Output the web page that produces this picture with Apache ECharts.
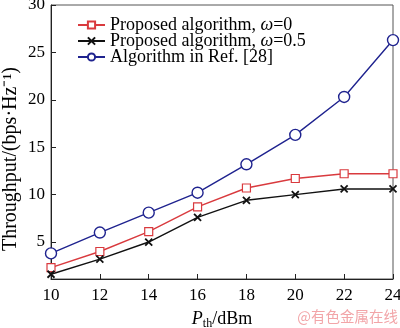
<!DOCTYPE html>
<html><head><meta charset="utf-8">
<script src="https://cdn.jsdelivr.net/npm/echarts@6/dist/echarts.min.js"></script>
<style>html,body{margin:0;padding:0;background:#fff}#c{width:400px;height:328px}</style>
</head><body><div id="c"></div>
<script>
var xValues = [10, 12, 14, 16, 18, 20, 22, 24];
var xTicks = [10, 12, 14, 16, 18, 20, 22, 24];
var yTicks = [5, 10, 15, 20, 25, 30];
var seriesNames = ['Proposed algorithm, ω=0', 'Proposed algorithm, ω=0.5', 'Algorithm in Ref. [28]'];
var proposedW0 = [2.3, 4.0, 6.1, 8.7, 10.7, 11.7, 12.2, 12.2];
var proposedW05 = [1.6, 3.2, 5.0, 7.6, 9.4, 10.0, 10.6, 10.6];
var refAlg = [3.8, 6.0, 8.1, 10.2, 13.2, 16.3, 20.3, 26.3];
var yTitle = 'Throughput/(bps·Hz⁻¹)';

function pairs(arr){ return arr.map(function(v,i){ return [xValues[i], v]; }); }
var FONT = 'Liberation Serif';
var LF = 18;
var chart = echarts.init(document.getElementById('c'), null, {renderer:'canvas'});
var legendRich = {
  n:{fontFamily:FONT,fontSize:LF,color:'#000'},
  i:{fontFamily:FONT,fontSize:LF,fontStyle:'italic',color:'#000'}
};
chart.setOption({
  animation:false,
  backgroundColor:'#fff',
  grid:{left:51,right:7,top:5,bottom:49,outerBoundsMode:'none',containLabel:false,
        show:true,borderColor:'#555',borderWidth:1,backgroundColor:'transparent'},
  legend:{
    orient:'vertical',left:77,top:16,itemWidth:27,itemHeight:9,itemGap:-2,
    padding:0,
    textStyle:{fontFamily:FONT,fontSize:LF,color:'#000',rich:legendRich},
    formatter:function(name){
      if(name===seriesNames[0]) return '{n|Proposed algorithm, }{i|ω}{n|=0}';
      if(name===seriesNames[1]) return '{n|Proposed algorithm, }{i|ω}{n|=0.5}';
      return '{n|'+name+'}';
    },
    data:seriesNames
  },
  xAxis:{
    type:'value',min:10,max:24,
    axisLine:{lineStyle:{color:'#222',width:1}},
    axisTick:{inside:true,length:5,lineStyle:{color:'#222'},customValues:xTicks},
    axisLabel:{fontFamily:FONT,fontSize:17,color:'#000',margin:8,customValues:xTicks},
    splitLine:{show:false},
    name:'{i|P}{s|th}{n|/dBm}',nameLocation:'middle',nameGap:30,
    nameTextStyle:{rich:{
      i:{fontFamily:FONT,fontSize:18,fontStyle:'italic',color:'#000'},
      s:{fontFamily:FONT,fontSize:12,color:'#000',padding:[9,0,0,0]},
      n:{fontFamily:FONT,fontSize:18,color:'#000'}
    }}
  },
  yAxis:{
    type:'value',min:1.1,max:30,
    axisLine:{show:true,lineStyle:{color:'#222',width:1}},
    axisTick:{show:true,inside:true,length:5,lineStyle:{color:'#222'},customValues:yTicks},
    axisLabel:{fontFamily:FONT,fontSize:17,color:'#000',margin:6,customValues:yTicks},
    splitLine:{show:false}
  },
  graphic:[{
    type:'text',x:11,y:159,rotation:Math.PI/2,
    style:{text:yTitle,fontFamily:FONT,fontSize:20,fill:'#000',align:'center',verticalAlign:'middle'}
  },{
    type:'text',right:2,top:309,
    style:{text:'@有色金属在线',fontFamily:'Noto Sans CJK SC',fontSize:14.5,fill:'#f2a5a8'}
  }],
  series:[
    {name:seriesNames[0],type:'line',data:pairs(proposedW0),symbol:'rect',symbolSize:8,
     lineStyle:{color:'#d93a3e',width:1.4},itemStyle:{color:'#fff',borderColor:'#d93a3e',borderWidth:1.2}},
    {name:seriesNames[1],type:'line',data:pairs(proposedW05),symbol:'path://M0,0L10,10M10,0L0,10',symbolSize:7,
     lineStyle:{color:'#111',width:1.4},itemStyle:{color:'none',borderColor:'#111',borderWidth:1.8}},
    {name:seriesNames[2],type:'line',data:pairs(refAlg),symbol:'circle',symbolSize:11,
     lineStyle:{color:'#1f238f',width:1.4},itemStyle:{color:'#fff',borderColor:'#1f238f',borderWidth:1.4}}
  ]
});
</script></body></html>
